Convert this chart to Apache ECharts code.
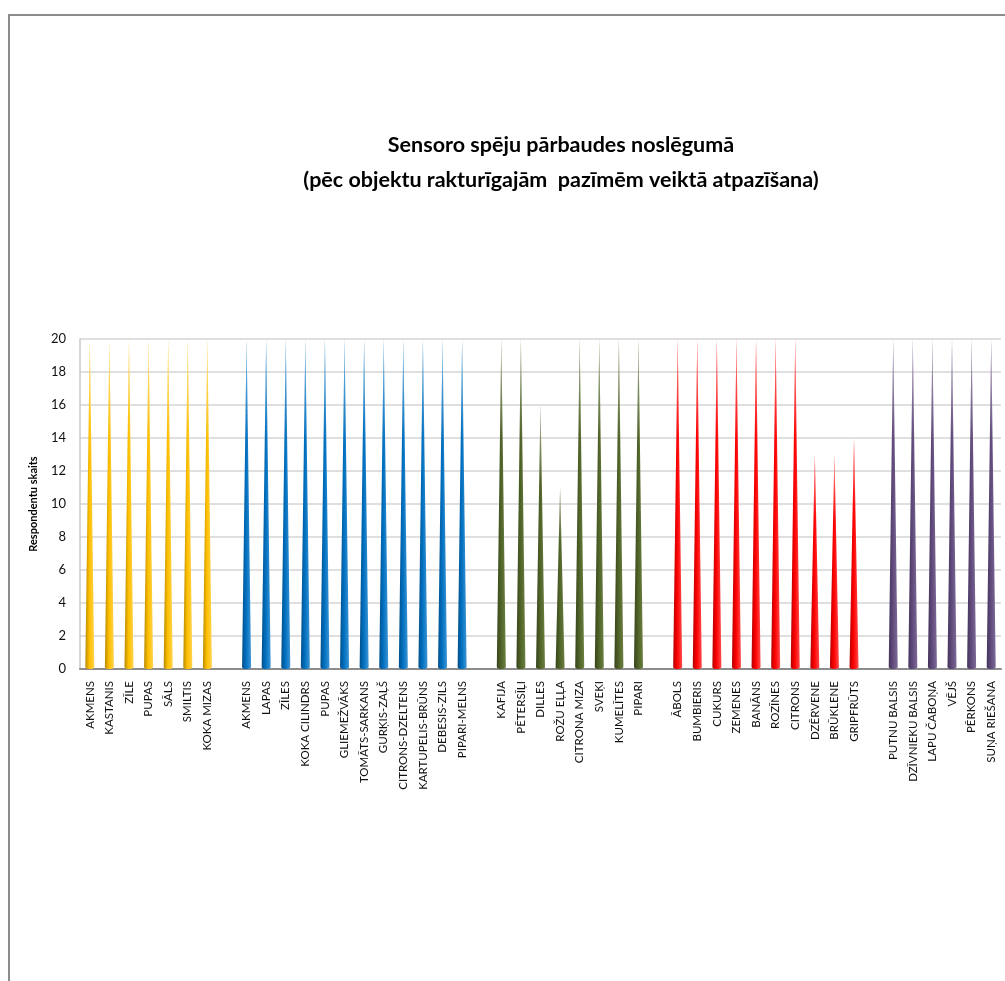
<!DOCTYPE html>
<html>
<head>
<meta charset="utf-8">
<script src="https://cdn.jsdelivr.net/npm/echarts@6/dist/echarts.min.js"></script>
<style>
  html, body { margin: 0; padding: 0; background: #fff; }
  #frame { position: absolute; left: 8px; top: 14px; width: 1100px; height: 1100px; border-left: 2px solid #8c8c8c; border-top: 2px solid #8c8c8c; }
  #chart { width: 1005px; height: 981px; position: absolute; left: 0; top: 0; }
</style>
</head>
<body>
<div id="frame"></div>
<div id="chart"></div>
<script>
// groups of objects (categories) and respondent counts
var touchCats = ['AKMENS', 'KASTANIS', 'ZĪLE', 'PUPAS', 'SĀLS', 'SMILTIS', 'KOKA MIZAS'];
var touchVals = [20, 20, 20, 20, 20, 20, 20];

var sightCats = ['AKMENS', 'LAPAS', 'ZĪLES', 'KOKA CILINDRS', 'PUPAS', 'GLIEMEŽVĀKS', 'TOMĀTS-SARKANS',
	'GURĶIS-ZAĻŠ', 'CITRONS-DZELTENS', 'KARTUPELIS-BRŪNS', 'DEBESIS-ZILS', 'PIPARI-MELNS'];
var sightVals = [20, 20, 20, 20, 20, 20, 20, 20, 20, 20, 20, 20];

var smellCats = ['KAFIJA', 'PĒTERSĪĻI', 'DILLES', 'ROŽU EĻĻA', 'CITRONA MIZA', 'SVEĶI', 'KUMELĪTES', 'PIPARI'];
var smellVals = [20, 20, 16, 11, 20, 20, 20, 20];

var tasteCats = ['ĀBOLS', 'BUMBIERIS', 'CUKURS', 'ZEMENES', 'BANĀNS', 'ROZĪNES', 'CITRONS', 'DZĒRVENE', 'BRŪKLENE', 'GRIPFRŪTS'];
var tasteVals = [20, 20, 20, 20, 20, 20, 20, 13, 13, 14];

var soundCats = ['PUTNU BALSIS', 'DZĪVNIEKU BALSIS', 'LAPU ČABOŅA', 'VĒJŠ', 'PĒRKONS', 'SUŅA RIEŠANA'];
var soundVals = [20, 20, 20, 20, 20, 20];

var groupColors = [
	['#b88a00', '#ffc000', '#ffd24d'],
	['#004f8a', '#0070c0', '#3d95d4'],
	['#36441a', '#4f6228', '#6c8040'],
	['#b30000', '#ff0000', '#ff4d4d'],
	['#43335a', '#604a7b', '#7e6a98']
];

var groups = [
	[touchCats, touchVals],
	[sightCats, sightVals],
	[smellCats, smellVals],
	[tasteCats, tasteVals],
	[soundCats, soundVals]
];

var categories = [];
var coneData = [];
var fadeData = [];
groups.forEach(function (g, gi) {
	if (gi > 0) {
		// empty slot between groups
		categories.push(' '.repeat(gi));
		coneData.push('-');
		fadeData.push('-');
	}
	var c = groupColors[gi];
	g[0].forEach(function (name, i) {
		categories.push(name);
		coneData.push({
			value: g[1][i],
			itemStyle: {
				color: new echarts.graphic.LinearGradient(0, 0, 1, 0, [
					{ offset: 0, color: c[0] },
					{ offset: 0.45, color: c[1] },
					{ offset: 1, color: c[2] }
				])
			}
		});
		fadeData.push(g[1][i]);
	});
});

var conePath = 'path://M0,100 L5,0 L10,100 A5,0.8 0 0 1 0,100 Z';

var chart = echarts.init(document.getElementById('chart'));
var option = {
	backgroundColor: 'transparent',
	animation: false,
	title: {
		text: 'Sensoro spēju pārbaudes noslēgumā\n(pēc objektu rakturīgajām  pazīmēm veiktā atpazīšana)',
		left: 556,
		top: 123,
		textAlign: 'center',
		textStyle: {
			fontFamily: 'Lato',
			fontWeight: 'bold',
			fontSize: 21.5,
			lineHeight: 35,
			color: '#000'
		}
	},
	grid: {
		left: 80,
		right: 4,
		top: 339,
		bottom: 312
	},
	xAxis: {
		type: 'category',
		data: categories,
		axisLine: { lineStyle: { color: '#8c8c8c', width: 2 } },
		axisTick: { show: false },
		axisLabel: {
			interval: 0,
			rotate: 90,
			margin: 12,
			fontFamily: 'Lato',
			fontSize: 11.5,
			color: '#111'
		}
	},
	yAxis: {
		type: 'value',
		min: 0,
		max: 20,
		interval: 2,
		name: 'Respondentu skaits',
		nameLocation: 'middle',
		nameGap: 41,
		nameTextStyle: {
			fontFamily: 'Lato',
			fontWeight: 'bold',
			fontSize: 11,
			color: '#000'
		},
		axisLine: { show: true, lineStyle: { color: '#c8c8c8', width: 1.5 } },
		axisTick: { show: false },
		axisLabel: {
			margin: 14,
			fontFamily: 'Lato',
			fontSize: 13,
			color: '#111'
		},
		splitLine: { lineStyle: { color: '#d4d4d4', width: 1.5 } }
	},
	series: [
		{
			type: 'pictorialBar',
			symbol: conePath,
			symbolSize: [9, '100%'],
			symbolPosition: 'start',
			data: coneData,
			z: 2
		},
		{
			// light fade towards the cone tips
			type: 'pictorialBar',
			symbol: conePath,
			symbolSize: [9, '100%'],
			symbolPosition: 'start',
			barGap: '-100%',
			data: fadeData,
			itemStyle: {
				color: new echarts.graphic.LinearGradient(0, 0, 0, 1, [
					{ offset: 0, color: 'rgba(255,255,255,0.9)' },
					{ offset: 0.1, color: 'rgba(255,255,255,0.35)' },
					{ offset: 0.3, color: 'rgba(255,255,255,0)' },
					{ offset: 1, color: 'rgba(255,255,255,0)' }
				])
			},
			z: 3
		}
	]
};
chart.setOption(option);
</script>
</body>
</html>
